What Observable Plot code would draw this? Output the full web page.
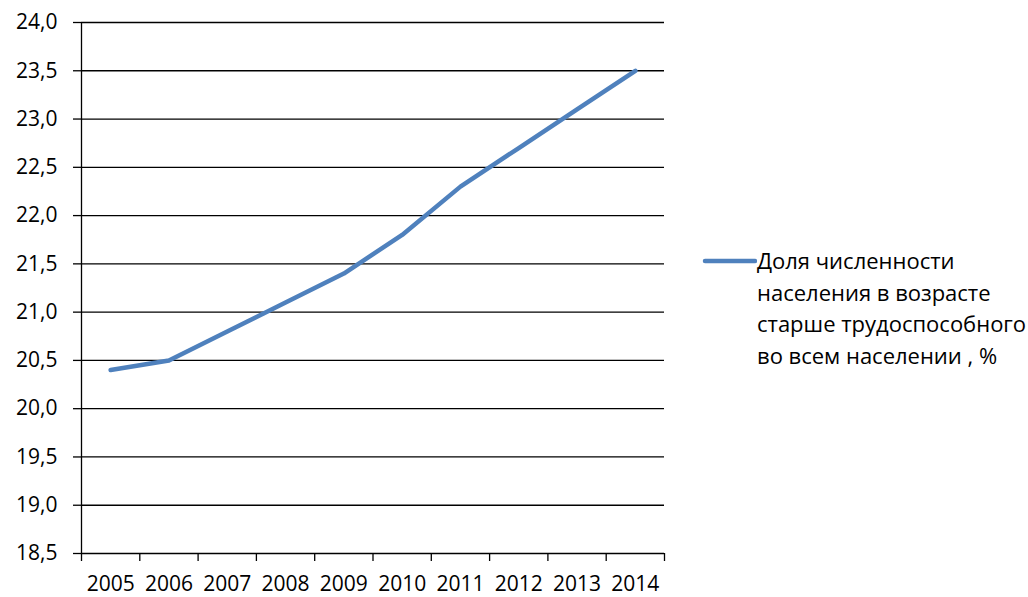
<!DOCTYPE html>
<html><head><meta charset="utf-8">
<script src="https://cdn.jsdelivr.net/npm/d3@7"></script>
<script src="https://cdn.jsdelivr.net/npm/@observablehq/plot@0.6"></script>
<style>
body{margin:0;background:#fff;}
#wrap{position:relative;width:1028px;height:597px;font-family:"Open Sans",sans-serif;}
#legend{position:absolute;left:702px;top:245px;display:flex;align-items:flex-start;}
#legend .txt{font-size:22px;line-height:31.5px;color:#000;white-space:nowrap;}
</style></head>
<body><div id="wrap"></div>
<script>
const years = [2005, 2006, 2007, 2008, 2009, 2010, 2011, 2012, 2013, 2014];
const share = [20.4, 20.5, 20.8, 21.1, 21.4, 21.8, 22.3, 22.7, 23.1, 23.5];
const yTicks = [18.5, 19.0, 19.5, 20.0, 20.5, 21.0, 21.5, 22.0, 22.5, 23.0, 23.5, 24.0];
const seriesName = ["Доля численности", "населения в возрасте", "старше трудоспособного", "во всем населении , %"];
const lineColor = "#4F81BD";

const data = years.map((y, i) => ({year: y, value: share[i]}));
const bandEdges = d3.range(years[0] - 0.5, years[years.length - 1] + 1, 1);
const fmt = d => d.toFixed(1).replace(".", ",");

const chart = Plot.plot({
  width: 1028,
  height: 597,
  marginLeft: 81,
  marginRight: 364,
  marginTop: 22,
  marginBottom: 44,
  style: {fontFamily: "'Open Sans', sans-serif", fontSize: "21px", color: "#000", background: "#fff", overflow: "visible"},
  x: {domain: [years[0] - 0.5, years[years.length - 1] + 0.5]},
  y: {domain: [18.5, 24.0]},
  marks: [
    Plot.ruleY(yTicks, {stroke: "#000", strokeWidth: 1.3}),
    Plot.ruleX([years[0] - 0.5], {stroke: "#000", strokeWidth: 1.3}),
    Plot.axisY({ticks: yTicks, tickFormat: fmt, tickSize: 8, tickPadding: 16, strokeWidth: 1.3, label: null, fontSize: 21}),
    Plot.axisX({ticks: bandEdges, tickFormat: () => "", tickSize: 8, strokeWidth: 1.3, label: null}),
    Plot.axisX({ticks: years, tickFormat: d => String(d), tickSize: 0, tickPadding: 23, label: null, fontSize: 21}),
    Plot.line(data, {x: "year", y: "value", stroke: lineColor, strokeWidth: 4.5, strokeLinejoin: "round", strokeLinecap: "round"})
  ]
});

const wrap = document.getElementById("wrap");
wrap.appendChild(chart);
const leg = document.createElement("div");
leg.id = "legend";
leg.innerHTML = `<svg width="55" height="32"><line x1="3" y1="16" x2="53" y2="16" stroke="${lineColor}" stroke-width="4.5" stroke-linecap="round"/></svg><div class="txt">${seriesName.join("<br>")}</div>`;
wrap.appendChild(leg);
</script></body></html>
